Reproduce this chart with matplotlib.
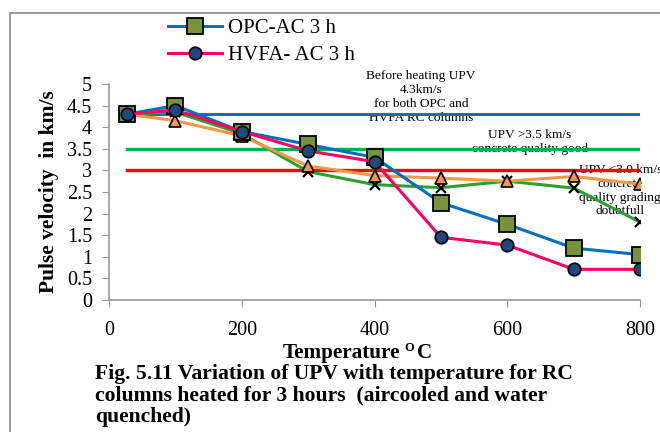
import matplotlib.pyplot as plt
from matplotlib.patches import Rectangle
from matplotlib.lines import Line2D

plt.rcParams['font.family'] = ['Liberation Serif', 'DejaVu Serif']

# temperatures (deg C), first point is room temperature
temps = [27, 100, 200, 300, 400, 500, 600, 700, 800]

opc_ac = [4.3, 4.5, 3.9, 3.6, 3.3, 2.25, 1.75, 1.2, 1.05]
hvfa_ac = [4.3, 4.4, 3.9, 3.45, 3.2, 1.45, 1.27, 0.71, 0.71]
opc_wq = [4.3, 4.15, 3.8, 3.1, 2.88, 2.82, 2.75, 2.86, 2.68]
hvfa_wq = [4.3, 4.35, 3.85, 2.97, 2.67, 2.6, 2.75, 2.59, 1.8]

before_heating = 4.3
good_limit = 3.5
doubtful_limit = 3.0

W, H = 660, 432
fig = plt.figure(figsize=(W / 100, H / 100), dpi=100)
ax = fig.add_axes([0.165, 0.3056, 0.805, 0.5])

# reference lines
ax.plot([temps[0], temps[-1]], [before_heating] * 2, color='#0070C0', lw=2.2, zorder=2)
ax.plot([temps[0], temps[-1]], [good_limit] * 2, color='#00B050', lw=2.4, zorder=2)
ax.plot([temps[0], temps[-1]], [doubtful_limit] * 2, color='#FF0000', lw=2.4, zorder=2)

ax.plot(temps, hvfa_wq, color='#2CA02C', lw=2.2, marker='x', ms=7, mew=1.6,
        mec='black', zorder=3)
ax.plot(temps, opc_wq, color='#F79646', lw=2.2, marker='^', ms=8, mfc='#F79646',
        mec='black', mew=1.2, zorder=4)
ax.plot(temps, opc_ac, color='#0070C0', lw=2.2, marker='s', ms=11, mfc='#77933C',
        mec='black', mew=1.3, zorder=5)
ax.plot(temps, hvfa_ac, color='#FF0066', lw=2.2, marker='o', ms=9, mfc='#1F497D',
        mec='black', mew=1.2, zorder=6)

ax.text(470, 4.7, 'Before heating UPV\n4.3km/s\nfor both OPC and\nHVFA RC columns',
        ha='center', va='center', fontsize=9.6, linespacing=1.2, zorder=1)
ax.text(634, 3.66, 'UPV >3.5 km/s\nconcrete quality good',
        ha='center', va='center', fontsize=9.6, linespacing=1.2, zorder=1)
ax.text(770, 2.53, 'UPV <3.0 km/s\nconcrete\nquality grading\ndoubtfull',
        ha='center', va='center', fontsize=9.6, linespacing=1.2, zorder=1,
        clip_on=False)

ax.set_xlim(0, 800)
ax.set_ylim(0, 5)
ax.set_xticks([0, 200, 400, 600, 800])
ax.set_yticks([0, 0.5, 1, 1.5, 2, 2.5, 3, 3.5, 4, 4.5, 5])
ax.set_yticklabels(['0', '0.5', '1', '1.5', '2', '2.5', '3', '3.5', '4', '4.5', '5'])
ax.tick_params(labelsize=14.5, direction='out', color='#999999', length=5)
ax.tick_params(axis='x', pad=10)
ax.tick_params(axis='y', pad=7)
for side in ['top', 'right']:
    ax.spines[side].set_visible(False)
for side in ['left', 'bottom']:
    ax.spines[side].set_color('#999999')
    ax.spines[side].set_linewidth(1.2)

ax.set_ylabel('Pulse velocity  in km/s', fontsize=15.5, fontweight='bold', labelpad=6)

# x label: "Temperature O C" with a small raised O
fig.text(400 / W, 1 - 358 / H, 'Temperature', ha='right', va='baseline',
         fontsize=15.2, fontweight='bold')
fig.text(404 / W, 1 - 351 / H, 'O', ha='left', va='baseline',
         fontsize=9, fontweight='bold')
fig.text(417 / W, 1 - 358 / H, 'C', ha='left', va='baseline',
         fontsize=15.2, fontweight='bold')

fig.text(0.144, 0.157, 'Fig. 5.11 Variation of UPV with temperature for RC\n'
         'columns heated for 3 hours  (aircooled and water\nquenched)',
         ha='left', va='top', fontsize=15.6, fontweight='bold', linespacing=1.08)

handles = [
    Line2D([], [], color='#0070C0', lw=2.2, marker='s', ms=11, mfc='#77933C',
           mec='black', mew=1.3),
    Line2D([], [], color='#FF0066', lw=2.2, marker='o', ms=9, mfc='#1F497D',
           mec='black', mew=1.2),
]
fig.legend(handles, ['OPC-AC 3 h', 'HVFA- AC 3 h'], loc='upper left',
           bbox_to_anchor=(0.226, 1.0), frameon=False, fontsize=15,
           handlelength=2.6, handletextpad=0.3, labelspacing=0.35)

# outer border around the figure area
fig.patches.append(Rectangle((10 / W, -0.1), 1.2, 1.1 - 13 / H, transform=fig.transFigure,
                             fill=False, edgecolor='#888888', lw=1.2))

fig.savefig('out.png', dpi=100)
